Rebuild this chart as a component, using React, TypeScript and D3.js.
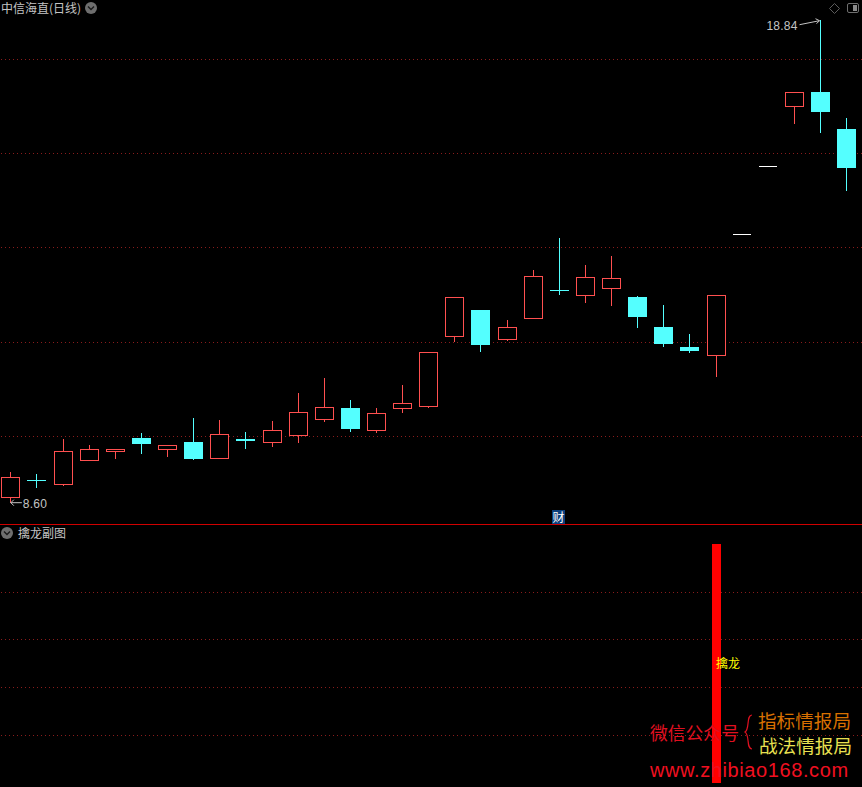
import { useEffect, useRef } from 'react'
import * as d3 from 'd3'

const WIDTH = 862
const HEIGHT = 787

// daily prices, one entry per session
const opens = [8.71, 9.08, 8.99, 9.5, 9.69, 9.98, 9.73, 9.89, 9.54, 9.94, 9.88, 10.02, 10.36, 10.61, 10.13, 10.6, 10.64, 12.12, 12.68, 12.06, 12.5, 13.12, 12.99, 13.14, 12.96, 12.32, 11.9, 11.72, 14.28, 15.73, 16.99, 17.3, 16.53]
const closes = [9.14, 9.08, 9.69, 9.73, 9.73, 9.85, 9.82, 9.53, 10.05, 9.9, 10.14, 10.52, 10.62, 10.17, 10.5, 10.71, 11.79, 12.95, 11.94, 12.32, 13.4, 13.12, 13.38, 13.35, 12.54, 11.96, 11.82, 13.0, 14.28, 15.73, 17.29, 16.88, 15.71]
const highs = [9.26, 9.21, 9.95, 9.83, 9.73, 10.08, 9.82, 10.4, 10.36, 10.1, 10.34, 10.93, 11.25, 10.78, 10.61, 11.1, 11.79, 12.95, 12.68, 12.47, 13.53, 14.21, 13.64, 13.83, 12.98, 12.79, 12.18, 13.0, 14.28, 15.73, 17.29, 18.84, 16.75]
const lows = [8.6, 8.92, 8.96, 9.5, 9.53, 9.64, 9.57, 9.51, 9.54, 9.74, 9.79, 9.87, 10.31, 10.1, 10.08, 10.5, 10.61, 12.01, 11.8, 12.03, 12.5, 13.0, 12.83, 12.77, 12.3, 11.9, 11.77, 11.27, 14.28, 15.73, 16.63, 16.43, 15.21]
const upDays = [true, false, true, true, true, false, true, false, true, false, true, true, true, false, true, true, true, true, false, true, true, false, true, true, false, false, false, true, true, true, true, false, false]
const flatDays = [28, 29]

const priceTicks = [10, 12, 14, 16, 18]
const subTicks = [20, 40, 60, 80]

// sub chart: a single signal bar
const signalIndex = 27
const signalValue = 100

const RED = '#ff5050'
const CYAN = '#54ffff'
const GRID = '#8a1c1c'
const LABEL = '#c4c4c4'
const CJK = '"Noto Sans CJK SC", sans-serif'
const LATIN = '"Liberation Sans", sans-serif'

export default function App() {
  const svgRef = useRef<SVGSVGElement>(null)

  useEffect(() => {
    if (!svgRef.current) return
    document.body.style.margin = '0'
    document.body.style.background = '#000'

    const svg = d3.select(svgRef.current)
    svg.selectAll('*').remove()

    const x = d3.scalePoint<number>().domain(d3.range(opens.length)).range([10.85, 846.63])
    const y = d3.scaleLinear().domain([8.6, 18.84]).range([502.7, 19.7])
    const ySub = d3.scaleLinear().domain([0, 100]).range([783, 544.5])
    const px = (v: number) => Math.floor(v) + 0.5
    const halfBody = 9

    svg.append('rect').attr('width', WIDTH).attr('height', HEIGHT).attr('fill', '#000')

    // dotted grid of both panels
    const gridYs = [...priceTicks.map(t => y(t)), ...subTicks.map(t => ySub(t))]
    svg.append('g').selectAll('line').data(gridYs).enter().append('line')
      .attr('x1', 0).attr('x2', WIDTH)
      .attr('y1', d => px(d)).attr('y2', d => px(d))
      .attr('stroke', GRID)
      .attr('stroke-dasharray', '1 3')
      .attr('stroke-dashoffset', 3)
      .attr('shape-rendering', 'crispEdges')

    // panel divider
    svg.append('line')
      .attr('x1', 0).attr('x2', WIDTH).attr('y1', 524.5).attr('y2', 524.5)
      .attr('stroke', '#d00000')
      .attr('shape-rendering', 'crispEdges')

    const candles = svg.append('g').attr('shape-rendering', 'crispEdges')
    opens.forEach((open, i) => {
      const close = closes[i]
      const cx = px(x(i) as number)
      const flat = flatDays.includes(i)
      const color = flat ? '#ffffff' : upDays[i] ? RED : CYAN
      const top = y(Math.max(open, close))
      const bottom = y(Math.min(open, close))

      if (flat) {
        candles.append('line')
          .attr('x1', cx - halfBody - 0.5).attr('x2', cx + halfBody - 0.5)
          .attr('y1', px(top)).attr('y2', px(top))
          .attr('stroke', color)
        return
      }

      // wicks stop at the body, red bodies are hollow
      if (highs[i] > Math.max(open, close)) {
        candles.append('line')
          .attr('x1', cx).attr('x2', cx)
          .attr('y1', Math.round(y(highs[i]))).attr('y2', Math.round(top))
          .attr('stroke', color)
      }
      if (lows[i] < Math.min(open, close)) {
        candles.append('line')
          .attr('x1', cx).attr('x2', cx)
          .attr('y1', Math.round(bottom)).attr('y2', Math.round(y(lows[i])))
          .attr('stroke', color)
      }
      if (upDays[i]) {
        candles.append('rect')
          .attr('x', cx - halfBody).attr('width', halfBody * 2)
          .attr('y', px(top)).attr('height', Math.max(1, Math.floor(bottom) - Math.floor(top)))
          .attr('fill', '#000')
          .attr('stroke', color)
      } else {
        candles.append('rect')
          .attr('x', cx - halfBody - 0.5).attr('width', halfBody * 2 + 1)
          .attr('y', Math.round(top)).attr('height', Math.max(1, Math.round(bottom - top)))
          .attr('fill', color)
      }
    })

    // sub chart bar
    const signalX = x(signalIndex) as number
    svg.append('rect')
      .attr('x', Math.floor(signalX) - 4).attr('width', 9)
      .attr('y', Math.floor(ySub(signalValue))).attr('height', ySub(0) - Math.floor(ySub(signalValue)))
      .attr('fill', '#ff0000')

    const addText = (tx: number, ty: number, str: string, size: number, fill: string, font = CJK, spacing = 0) =>
      svg.append('text')
        .attr('x', tx).attr('y', ty)
        .attr('font-family', font)
        .attr('font-size', size)
        .attr('letter-spacing', spacing)
        .attr('fill', fill)
        .text(str)

    const chevronIcon = (cx: number, cy: number) => {
      svg.append('circle').attr('cx', cx).attr('cy', cy).attr('r', 6).attr('fill', '#6e6e6e')
      svg.append('path')
        .attr('d', `M${cx - 3},${cy - 1.5}L${cx},${cy + 1.5}L${cx + 3},${cy - 1.5}`)
        .attr('fill', 'none').attr('stroke', '#1a1a1a').attr('stroke-width', 1.4)
    }

    // headers
    addText(1, 13, '中信海直(日线)', 12, LABEL)
    chevronIcon(91, 8)
    addText(18, 538, '擒龙副图', 12, LABEL)
    chevronIcon(7, 533)

    // top right tool icons
    svg.append('path').attr('d', 'M834.5,3.5L839.5,8.5L834.5,13.5L829.5,8.5Z')
      .attr('fill', 'none').attr('stroke', '#5c5c5c')
    svg.append('rect').attr('x', 847.5).attr('y', 3.5).attr('width', 11).attr('height', 9).attr('rx', 1.5)
      .attr('fill', 'none').attr('stroke', '#6e6e6e')
    svg.append('rect').attr('x', 853).attr('y', 5).attr('width', 4).attr('height', 6).attr('fill', '#8a8a8a')

    // extreme price labels
    const hiX = x(31) as number
    const hiY = y(18.84)
    addText(hiX - 54, hiY + 10, '18.84', 12, LABEL, LATIN, 0.2)
    svg.append('path')
      .attr('d', `M${hiX - 21},${hiY + 5}L${hiX - 1},${hiY + 1}M${hiX - 5},${hiY - 1}L${hiX - 1},${hiY + 1}L${hiX - 4},${hiY + 4}`)
      .attr('fill', 'none').attr('stroke', LABEL)

    const loX = x(0) as number
    const loY = y(8.6)
    addText(loX + 12, loY + 5, '8.60', 12, LABEL, LATIN, 0.2)
    svg.append('path')
      .attr('d', `M${loX + 11},${loY}L${loX},${loY}M${loX + 3},${loY - 3}L${loX},${loY}L${loX + 3},${loY + 3}`)
      .attr('fill', 'none').attr('stroke', LABEL)

    // event badge
    svg.append('rect').attr('x', 552).attr('y', 510).attr('width', 13).attr('height', 14).attr('fill', '#0b3f7c')
    addText(552.5, 521.5, '财', 12, '#ffffff')

    addText(716, 668, '擒龙', 12, '#ffff00')

    // site watermark
    addText(650, 740, '微信公众号', 17.8, '#e01020')
    svg.append('path')
      .attr('d', 'M752,715C746,715 750,729 745,732C750,735 746,749 752,749')
      .attr('fill', 'none').attr('stroke', '#e01020').attr('stroke-width', 1.2)
    addText(758, 728, '指标情报局', 18.6, '#d87000')
    addText(759, 753, '战法情报局', 18.6, '#e8e050')
    addText(650, 777, 'www.zhibiao168.com', 20, '#f01020', LATIN, 0.6)
  }, [])

  return <svg ref={svgRef} width={WIDTH} height={HEIGHT} style={{ display: 'block' }} />
}
